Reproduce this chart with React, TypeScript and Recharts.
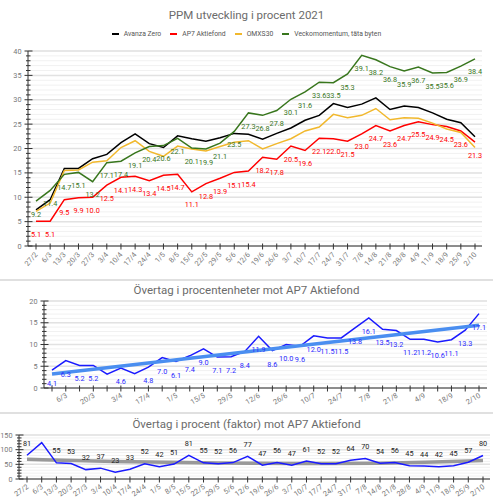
import { CartesianGrid, LabelList, Line, LineChart, XAxis, YAxis } from 'recharts';

const weeks = [
  '27/2', '6/3', '13/3', '20/3', '27/3', '3/4', '10/4', '17/4', '24/4', '1/5', '8/5',
  '15/5', '22/5', '29/5', '5/6', '12/6', '19/6', '26/6', '3/7', '10/7', '17/7', '24/7',
  '31/7', '7/8', '14/8', '21/8', '28/8', '4/9', '11/9', '18/9', '25/9', '2/10',
];

const avanzaZero = [
  7.4, 9.5, 15.9, 15.9, 17.9, 18.8, 21.2, 23.0, 21.0, 20.2, 22.6, 22.0, 21.5, 22.2, 23.1, 22.9,
  21.9, 23.1, 24.2, 25.8, 26.8, 29.2, 28.4, 29.1, 30.4, 28.0, 28.7, 28.4, 27.3, 26.0, 25.3, 22.4,
];
const ap7Aktiefond = [
  5.1, 5.1, 9.5, 9.9, 10.0, 12.5, 14.1, 14.3, 13.4, 14.5, 14.7, 11.1, 12.8, 13.9, 15.1, 15.4,
  18.2, 17.8, 20.5, 19.6, 22.1, 22.0, 21.5, 23.0, 24.7, 23.6, 24.7, 25.5, 24.9, 24.5, 23.6, 21.3,
];
const omxs30 = [
  7.1, 8.8, 15.5, 15.6, 17.2, 17.5, 20.2, 21.6, 19.4, 18.4, 20.5, 19.9, 19.5, 20.4, 21.3, 21.6,
  19.9, 21.0, 22.0, 23.6, 24.4, 27.0, 26.3, 26.8, 28.2, 25.9, 26.3, 26.2, 25.2, 24.0, 23.3, 20.2,
];
const veckomomentum = [
  9.2, 11.4, 14.7, 15.1, 13.2, 17.1, 17.4, 19.1, 20.4, 20.6, 22.1, 20.1, 19.9, 21.1, 23.5, 27.3,
  26.8, 27.8, 30.1, 31.6, 33.6, 33.5, 35.3, 39.1, 38.2, 36.8, 35.9, 36.7, 35.5, 35.6, 36.9, 38.4,
];

// övertag i procentenheter
const overtagPe = [
  4.1, 6.3, 5.2, 5.2, 3.2, 4.6, 3.3, 4.8, 7.0, 6.1, 7.4, 9.0, 7.1, 7.2, 8.4, 11.9,
  8.6, 10.0, 9.6, 12.0, 11.5, 11.5, 13.8, 16.1, 13.5, 13.2, 11.2, 11.2, 10.6, 11.1, 13.3, 17.1,
];
const peTrendWeeks = ['27/2', '2/10'];
const peTrend = [3.2, 14.4];

// övertag i procent (faktor)
const overtagFaktor = [
  81, 124, 55, 53, 32, 37, 23, 33, 52, 42, 51, 81, 55, 52, 56, 77,
  47, 56, 47, 61, 52, 52, 64, 70, 54, 56, 45, 44, 42, 45, 57, 80,
];
const faktorTrendWeeks = ['27/2', '10/4', '22/5', '3/7', '14/8', '25/9', '2/10'];
const faktorTrend = [67, 60, 55, 52.5, 54, 61, 63];

const topTicks = Array.from({ length: 41 }, (_, i) => i);
const midTicks = Array.from({ length: 21 }, (_, i) => i);
const bottomTicks = Array.from({ length: 16 }, (_, i) => i * 10);

const pick = (list: string[], values: number[]) =>
  weeks.map((w) => {
    const k = list.indexOf(w);
    return k >= 0 ? values[k] : null;
  });

const peTrendSeries = pick(peTrendWeeks, peTrend);
const faktorTrendSeries = pick(faktorTrendWeeks, faktorTrend);

const data = weeks.map((week, i) => ({
  week,
  avanza: avanzaZero[i],
  ap7: ap7Aktiefond[i],
  omx: omxs30[i],
  vecko: veckomomentum[i],
  pe: overtagPe[i],
  peTrend: peTrendSeries[i],
  faktor: overtagFaktor[i],
  faktorTrend: faktorTrendSeries[i],
}));

const FONT = 'Roboto, sans-serif';
const AXIS = '#333';
const LABEL = '#777';

function yTick(major: number) {
  return (props: any) => {
    const { x, y, payload } = props;
    const v = payload.value;
    const isMajor = v % major === 0;
    return (
      <g>
        <line x1={x - (isMajor ? 3.5 : 2)} x2={x + (isMajor ? 4.5 : 2.5)} y1={y} y2={y} stroke={AXIS} />
        {isMajor && (
          <text x={x - 6.5} y={y} dy={2.6} textAnchor="end" fontSize={7.3} fill={LABEL} fontFamily={FONT}>
            {v}
          </text>
        )}
      </g>
    );
  };
}

function xTick(angle: number, every: number, offset: number) {
  return (props: any) => {
    const { x, y, payload, index } = props;
    const show = index % every === offset;
    const tx = x + 2;
    const ty = y + 9;
    return (
      <g>
        <line x1={x} x2={x} y1={y - 2.5} y2={y + 3.5} stroke={AXIS} />
        {show && (
          <text
            x={tx}
            y={ty}
            textAnchor="end"
            fontSize={7.3}
            fill={LABEL}
            fontFamily={FONT}
            transform={`rotate(${angle}, ${tx}, ${ty})`}
          >
            {payload.value}
          </text>
        )}
      </g>
    );
  };
}

function pointLabel(color: string, dy: number, minY: number, maxY: number, digits: number) {
  return (props: any) => {
    const { x, y, value } = props;
    if (value == null) return null;
    const cy = y + dy;
    if (cy - 3.5 < minY || cy + 3.5 > maxY) return null;
    return (
      <text x={x} y={cy} dy={2.6} textAnchor="middle" fontSize={7.3} fill={color} fontFamily={FONT}>
        {Number(value).toFixed(digits)}
      </text>
    );
  };
}

const legendItems = [
  { name: 'Avanza Zero', color: '#000000' },
  { name: 'AP7 Aktiefond', color: '#ff0000' },
  { name: 'OMXS30', color: '#f1b82d' },
  { name: 'Veckomomentum, täta byten', color: '#38761d' },
];

function Title({ top, text }: { top: number; text: string }) {
  return (
    <div
      style={{
        position: 'absolute',
        top,
        left: 0,
        width: 493,
        textAlign: 'center',
        fontSize: 11.5,
        lineHeight: '14px',
        color: '#6b6b6b',
        fontFamily: FONT,
      }}
    >
      {text}
    </div>
  );
}

function Separator({ top }: { top: number }) {
  return <div style={{ position: 'absolute', top, left: 0, width: 493, height: 2, background: '#e0e0e0' }} />;
}

export default function App() {
  return (
    <div
      style={{
        position: 'absolute',
        top: 0,
        left: 0,
        width: 493,
        height: 500,
        background: '#fff',
        overflow: 'hidden',
        fontFamily: FONT,
      }}
    >
      {/* top panel */}
      <div style={{ position: 'absolute', top: 0, left: 0 }}>
        <LineChart width={493} height={280} data={data} margin={{ top: 51, right: 11, bottom: 0, left: 0 }}>
          <CartesianGrid vertical={false} horizontalValues={topTicks} stroke="#f1f1f1" />
          <CartesianGrid vertical={false} horizontalValues={[0, 5, 10, 15, 20, 25, 30, 35, 40]} stroke="#e2e2e2" strokeWidth={1.5} />
          <XAxis
            dataKey="week"
            interval={0}
            height={34}
            padding={{ left: 8, right: 7 }}
            axisLine={{ stroke: AXIS }}
            tickLine={false}
            tickSize={0}
            tickMargin={0}
            tick={xTick(-48, 1, 0)}
          />
          <YAxis
            width={28}
            domain={[0, 40]}
            ticks={topTicks}
            interval={0}
            axisLine={{ stroke: AXIS }}
            tickLine={false}
            tickSize={0}
            tickMargin={0}
            tick={yTick(5)}
          />
          <Line dataKey="avanza" stroke="#000000" strokeWidth={1.5} dot={false} isAnimationActive={false} />
          <Line dataKey="ap7" stroke="#ff0000" strokeWidth={1.5} dot={false} isAnimationActive={false}>
            <LabelList dataKey="ap7" content={pointLabel('#ff0000', 13, 0, 246, 1)} />
          </Line>
          <Line dataKey="omx" stroke="#f1b82d" strokeWidth={1.5} dot={false} isAnimationActive={false} />
          <Line dataKey="vecko" stroke="#38761d" strokeWidth={1.5} dot={false} isAnimationActive={false}>
            <LabelList dataKey="vecko" content={pointLabel('#38761d', 13, 0, 246, 1)} />
          </Line>
        </LineChart>
      </div>
      <Title top={8} text="PPM utveckling i procent 2021" />
      <div
        style={{
          position: 'absolute',
          top: 30,
          left: 0,
          width: 493,
          display: 'flex',
          justifyContent: 'center',
          gap: 9,
          fontSize: 6.8,
          lineHeight: '8px',
          color: '#555',
        }}
      >
        {legendItems.map((item) => (
          <div key={item.name} style={{ display: 'flex', alignItems: 'center', gap: 5 }}>
            <span style={{ display: 'inline-block', width: 7, height: 2.5, background: item.color }} />
            <span>{item.name}</span>
          </div>
        ))}
      </div>

      <Separator top={279} />

      {/* middle panel */}
      <div style={{ position: 'absolute', top: 281, left: 0 }}>
        <LineChart width={493} height={132} data={data} margin={{ top: 20, right: 6, bottom: 0, left: 0 }}>
          <CartesianGrid vertical={false} horizontalValues={midTicks} stroke="#f1f1f1" />
          <CartesianGrid vertical={false} horizontalValues={[0, 5, 10, 15, 20]} stroke="#e2e2e2" strokeWidth={1.5} />
          <XAxis
            dataKey="week"
            interval={0}
            height={25}
            padding={{ left: 8, right: 8 }}
            axisLine={{ stroke: AXIS }}
            tickLine={false}
            tickSize={0}
            tickMargin={0}
            tick={xTick(-30, 2, 1)}
          />
          <YAxis
            width={44}
            domain={[0, 20]}
            ticks={midTicks}
            interval={0}
            axisLine={{ stroke: AXIS }}
            tickLine={false}
            tickSize={0}
            tickMargin={0}
            tick={yTick(5)}
          />
          <Line dataKey="pe" stroke="#1a1aff" strokeWidth={1.5} dot={false} isAnimationActive={false}>
            <LabelList dataKey="pe" content={pointLabel('#2a2aff', 13.5, 0, 107.5, 1)} />
          </Line>
          <Line
            dataKey="peTrend"
            stroke="#4a8ef0"
            strokeWidth={3.5}
            dot={false}
            connectNulls
            isAnimationActive={false}
          />
        </LineChart>
      </div>
      <Title top={283} text="Övertag i procentenheter mot AP7 Aktiefond" />

      <Separator top={412} />

      {/* bottom panel */}
      <div style={{ position: 'absolute', top: 414, left: 0 }}>
        <LineChart width={493} height={86} data={data} margin={{ top: 21, right: 3, bottom: 0, left: 0 }}>
          <CartesianGrid vertical={false} horizontalValues={bottomTicks} stroke="#f1f1f1" />
          <CartesianGrid vertical={false} horizontalValues={[0, 50, 100, 150]} stroke="#e2e2e2" strokeWidth={1.5} />
          <XAxis
            dataKey="week"
            interval={0}
            height={21}
            padding={{ left: 8, right: 7 }}
            axisLine={{ stroke: AXIS }}
            tickLine={false}
            tickSize={0}
            tickMargin={0}
            tick={xTick(-35, 1, 0)}
          />
          <YAxis
            width={19}
            domain={[0, 150]}
            ticks={bottomTicks}
            interval={0}
            axisLine={{ stroke: AXIS }}
            tickLine={false}
            tickSize={0}
            tickMargin={0}
            tick={yTick(50)}
          />
          <Line
            dataKey="faktorTrend"
            stroke="#999999"
            strokeWidth={3.5}
            type="monotone"
            dot={false}
            connectNulls
            isAnimationActive={false}
          />
          <Line dataKey="faktor" stroke="#1a1aff" strokeWidth={1.5} dot={false} isAnimationActive={false}>
            <LabelList dataKey="faktor" content={pointLabel('#222', -12, 21, 86, 0)} />
          </Line>
        </LineChart>
      </div>
      <Title top={417} text="Övertag i procent (faktor) mot AP7 Aktiefond" />
    </div>
  );
}
